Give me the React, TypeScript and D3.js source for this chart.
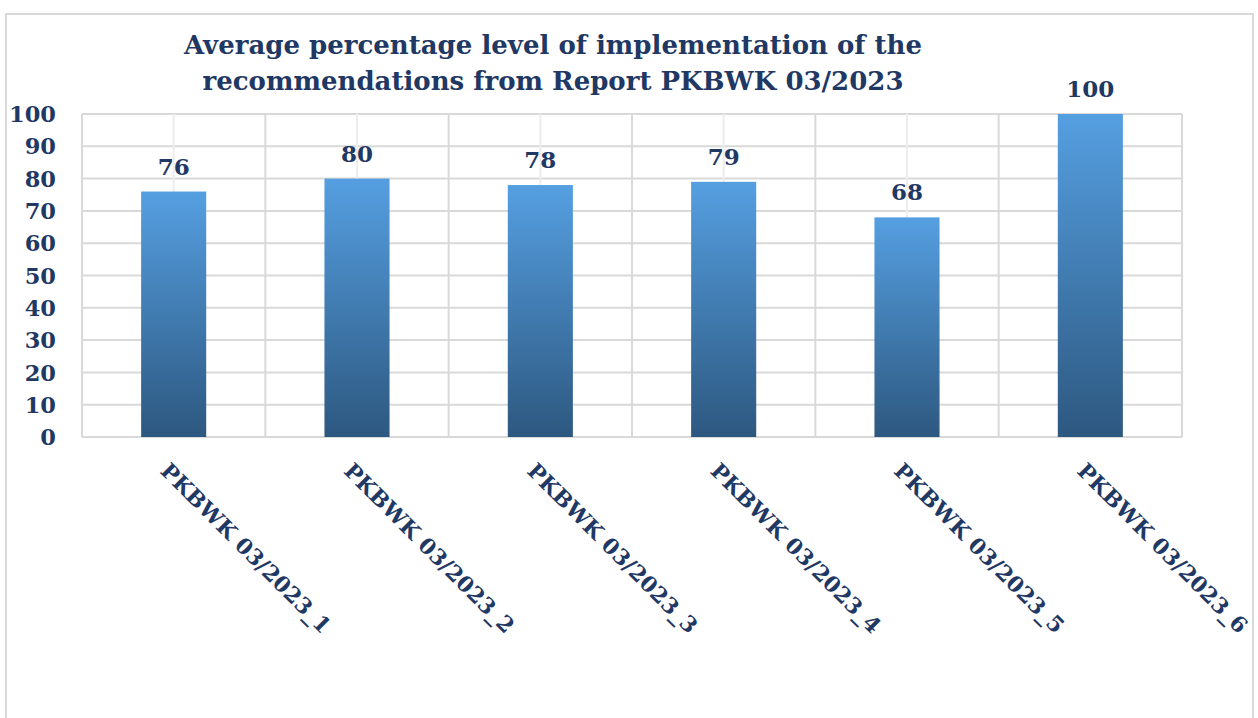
import React from "react";
import * as d3 from "d3";

const titleLines = [
  "Average percentage level of implementation of the",
  "recommendations from Report PKBWK 03/2023",
];
const categories = [
  "PKBWK 03/2023_1",
  "PKBWK 03/2023_2",
  "PKBWK 03/2023_3",
  "PKBWK 03/2023_4",
  "PKBWK 03/2023_5",
  "PKBWK 03/2023_6",
];
const values = [76, 80, 78, 79, 68, 100];
const yTicks = [0, 10, 20, 30, 40, 50, 60, 70, 80, 90, 100];

const W = 1258;
const H = 718;
const plot = { left: 82, right: 1182, top: 114, bottom: 437 };
const navy = "#1F3864";
const grid = "#D9D9D9";
const font = "'DejaVu Serif', serif";

export default function App() {
  const x = d3
    .scaleBand<string>()
    .domain(categories)
    .range([plot.left, plot.right])
    .paddingInner(0)
    .paddingOuter(0);
  const y = d3.scaleLinear().domain([0, 100]).range([plot.bottom, plot.top]);
  const barW = x.bandwidth() * 0.355;

  return (
    <svg
      width={W}
      height={H}
      style={{ position: "absolute", left: 0, top: 0, background: "#fff" }}
      fontFamily={font}
    >
      <defs>
        <linearGradient id="barGrad" x1="0" y1="0" x2="0" y2="1">
          <stop offset="0%" stopColor="#559FE1" />
          <stop offset="100%" stopColor="#2D5880" />
        </linearGradient>
      </defs>
      <rect x={0} y={0} width={W} height={H} fill="#fff" />
      {/* outer frame */}
      <path d={`M6,${H} V14 H1253 V${H}`} fill="none" stroke={grid} strokeWidth={2} />

      {/* title */}
      {titleLines.map((t, i) => (
        <text
          key={i}
          x={553}
          y={54 + i * 36}
          textAnchor="middle"
          fontWeight="bold"
          fontSize={26}
          fill={navy}
        >
          {t}
        </text>
      ))}

      {/* horizontal gridlines */}
      {yTicks.map((t) => (
        <line
          key={t}
          x1={plot.left}
          x2={plot.right}
          y1={y(t)}
          y2={y(t)}
          stroke={grid}
          strokeWidth={2}
        />
      ))}
      {/* minor vertical gridlines at centers */}
      {categories.map((c) => (
        <line
          key={"m" + c}
          x1={x(c)! + x.bandwidth() / 2}
          x2={x(c)! + x.bandwidth() / 2}
          y1={plot.top}
          y2={plot.bottom}
          stroke="#EDEDED"
          strokeWidth={2}
        />
      ))}
      {/* major vertical gridlines at boundaries */}
      {[...categories.map((c) => x(c)!), plot.right].map((xv, i) => (
        <line
          key={"v" + i}
          x1={xv}
          x2={xv}
          y1={plot.top}
          y2={plot.bottom}
          stroke={grid}
          strokeWidth={2}
        />
      ))}

      {/* bars */}
      {categories.map((c, i) => {
        const cx = x(c)! + x.bandwidth() / 2;
        return (
          <g key={"b" + c}>
            <rect
              x={cx - barW / 2}
              y={y(values[i])}
              width={barW}
              height={plot.bottom - y(values[i])}
              fill="url(#barGrad)"
            />
            <text
              x={cx}
              y={y(values[i]) - 17}
              textAnchor="middle"
              fontWeight="bold"
              fontSize={23}
              fill={navy}
            >
              {values[i]}
            </text>
          </g>
        );
      })}

      {/* y tick labels */}
      {yTicks.map((t) => (
        <text
          key={"yl" + t}
          x={56}
          y={y(t)}
          dy="0.36em"
          textAnchor="end"
          fontWeight="bold"
          fontSize={22.5}
          fill={navy}
        >
          {t}
        </text>
      ))}

      {/* x labels rotated */}
      {categories.map((c) => {
        const cx = x(c)! + x.bandwidth() / 2;
        const ty = 460;
        return (
          <text
            key={"xl" + c}
            transform={`translate(${cx - 2},${ty}) rotate(45)`}
            fontWeight="bold"
            fontSize={21.8}
            fill={navy}
            dy="0.8em"
          >
            {c}
          </text>
        );
      })}
    </svg>
  );
}
